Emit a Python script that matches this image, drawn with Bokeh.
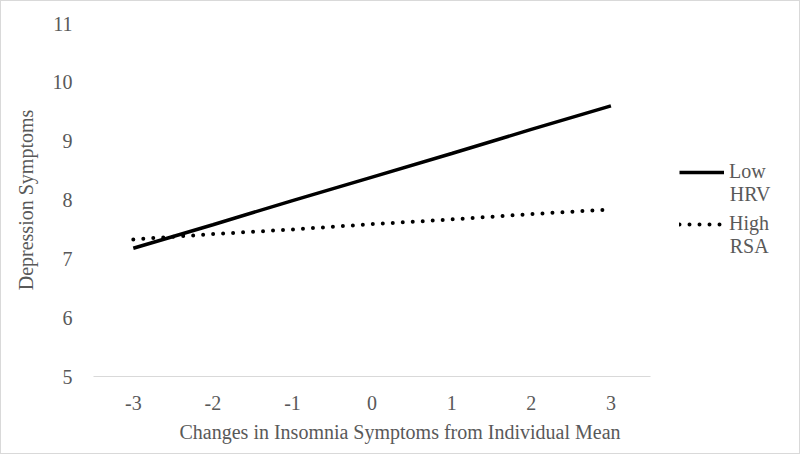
from bokeh.plotting import figure
from bokeh.models import Legend, LegendItem, FixedTicker, Range1d, Label, NumeralTickFormatter, Title
from bokeh.embed import file_html
from bokeh.resources import INLINE

x_vals = [-3, -2, -1, 0, 1, 2, 3]
low_hrv = [7.18, 7.58, 7.99, 8.39, 8.79, 9.20, 9.60]
high_rsa = [7.33, 7.42, 7.50, 7.59, 7.67, 7.76, 7.84]
y_ticks = [5, 6, 7, 8, 9, 10, 11]
series_first = ["Low", "High"]
series_second = ["HRV", "RSA"]
x_title = "Changes in Insomnia Symptoms from Individual Mean"
y_title = "Depression Symptoms"

FONT = "Liberation Serif"
GRAY = "#595959"
FS = "20px"

# frame spans from the y axis to the right edge so the legend is not clipped;
# the x axis line itself is limited with bounds to -3.5..3.5
p = figure(width=800, height=454, output_backend="svg", toolbar_location=None,
           x_range=Range1d(-3.5, 5.394), y_range=Range1d(5, 11),
           min_border_left=92, min_border_right=0, min_border_top=22, min_border_bottom=79)
p.outline_line_color = None
p.xgrid.grid_line_color = None
p.ygrid.grid_line_color = None
p.styles = {"border": "1px solid #d9d9d9", "box-sizing": "border-box"}

r1 = p.line(x_vals, low_hrv, line_color="black", line_width=3.5, line_cap="butt")
r2 = p.line(x_vals, high_rsa, line_color="black", line_width=4, line_cap="round", line_dash="0 10")

p.xaxis.ticker = FixedTicker(ticks=x_vals)
p.yaxis.ticker = FixedTicker(ticks=y_ticks)
p.xaxis.formatter = NumeralTickFormatter(format="0")
p.xaxis.bounds = (-3.5, 3.5)
for ax in (p.xaxis[0], p.yaxis[0]):
    ax.major_tick_line_color = None
    ax.minor_tick_line_color = None
    ax.major_label_text_font = FONT
    ax.major_label_text_color = GRAY
    ax.major_label_text_font_size = FS
    ax.axis_label_text_font = FONT
    ax.axis_label_text_color = GRAY
    ax.axis_label_text_font_size = FS
    ax.axis_label_text_font_style = "normal"
p.xaxis.axis_line_color = "#d9d9d9"
p.xaxis.axis_line_width = 1
p.yaxis.axis_line_color = None
p.yaxis.axis_label = y_title
p.xaxis.major_label_standoff = 13
p.yaxis.major_label_standoff = 15
p.yaxis.axis_label_standoff = 13

p.add_layout(Title(text=x_title, align="left", offset=86, text_font=FONT,
                   text_color=GRAY, text_font_size=FS, text_font_style="normal",
                   standoff=12), "below")

legend = Legend(items=[LegendItem(label=series_first[0], renderers=[r1]),
                       LegendItem(label=series_first[1], renderers=[r2])],
                location=(586, 141), label_text_font=FONT, label_text_color=GRAY,
                label_text_font_size=FS, glyph_width=45, glyph_height=20,
                label_standoff=5, spacing=29, border_line_color=None,
                background_fill_alpha=0, padding=0, margin=0)
p.add_layout(legend, "center")

for txt, yv in zip(series_second, [8.11, 7.21]):
    p.add_layout(Label(x=3.5, y=yv, x_offset=79, text=txt, text_font=FONT,
                       text_color=GRAY, text_font_size=FS, text_baseline="middle"))

open("out.html", "w").write(file_html(p, INLINE))
